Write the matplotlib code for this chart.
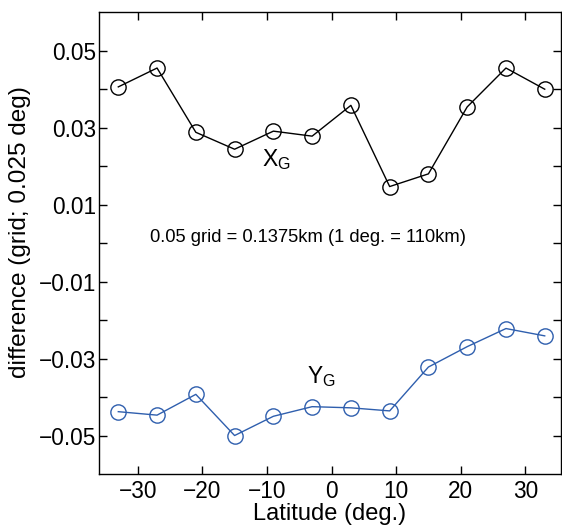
import numpy as np
import matplotlib.pyplot as plt

plt.rcParams['font.family'] = ['Liberation Sans', 'DejaVu Sans']

lat = [-33, -27, -21, -15, -9, -3, 3, 9, 15, 21, 27, 33]
x_g = [0.0406, 0.0455, 0.0288, 0.0244, 0.0291, 0.0278, 0.0358, 0.0147, 0.0180, 0.0354, 0.0455, 0.0400]
y_g = [-0.0438, -0.0447, -0.0393, -0.0500, -0.0450, -0.0425, -0.0428, -0.0436, -0.0322, -0.0269, -0.0222, -0.0241]

yticks = [-0.05, -0.04, -0.03, -0.02, -0.01, 0.0, 0.01, 0.02, 0.03, 0.04, 0.05]
ylabels = ['\u22120.05', '', '\u22120.03', '', '\u22120.01', '', '0.01', '', '0.03', '', '0.05']
xticks = [-30, -20, -10, 0, 10, 20, 30]

fig = plt.figure(figsize=(5.62, 5.32), dpi=100)
ax = fig.add_axes([0.176, 0.109, 0.822, 0.868])

blue = '#2f5fae'
ax.plot(lat, x_g, color='black', lw=1, marker='o', ms=11, mfc='none', mew=1)
ax.plot(lat, y_g, color=blue, lw=1, marker='o', ms=11, mfc='none', mew=1)

ax.set_xlim(-36, 35.5)
ax.set_ylim(-0.06, 0.06)
ax.set_xticks(xticks)
ax.set_yticks(yticks)
ax.set_yticklabels(ylabels)
ax.tick_params(direction='in', length=6, width=1, labelsize=16.3, top=True, right=True)
ax.tick_params(axis='y', pad=2)
ax.tick_params(axis='x', pad=4)

ax.set_xlabel('Latitude (deg.)', fontsize=17, labelpad=0)
ax.set_ylabel('difference (grid; 0.025 deg)', fontsize=17.6)
ax.yaxis.set_label_coords(-0.147, 0.525)

ax.text(-8.6, 0.0218, r'X$_\mathregular{G}$', fontsize=16.5, ha='center', va='center')
ax.text(-1.6, -0.0347, r'Y$_\mathregular{G}$', fontsize=16.5, ha='center', va='center')
ax.text(-3.6, 0.0015, '0.05 grid = 0.1375km (1 deg. = 110km)', fontsize=13.2, ha='center', va='center')

for s in ax.spines.values():
    s.set_linewidth(1)

fig.savefig('out.png', dpi=100)
